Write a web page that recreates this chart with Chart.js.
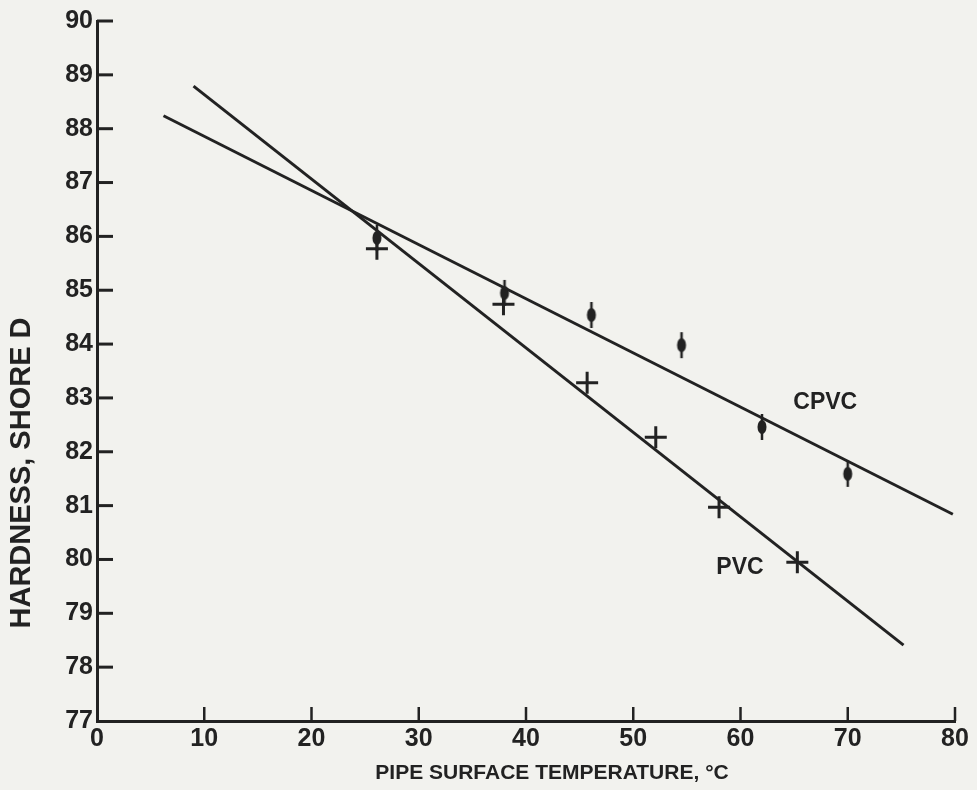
<!DOCTYPE html>
<html>
<head>
<meta charset="utf-8">
<title>Hardness vs pipe surface temperature</title>
<script src="https://cdn.jsdelivr.net/npm/chart.js@4.4.1/dist/chart.umd.min.js"></script>
<style>
  html, body { margin: 0; padding: 0; background: #f2f2ee; }
</style>
</head>
<body>
<canvas id="hardnessChart" width="977" height="790"></canvas>
<script>
// values
const cpvcTemp = [26.1, 38.0, 46.1, 54.5, 62.0, 70.0];
const cpvcHardness = [85.97, 84.95, 84.54, 83.98, 82.46, 81.59];
const pvcTemp = [26.1, 37.9, 45.7, 52.1, 58.0, 65.3];
const pvcHardness = [85.77, 84.74, 83.28, 82.27, 80.97, 79.95];

// the two drawn fit lines, end points
const cpvcFitTemp = [6.2, 79.8];
const cpvcFitHardness = [88.24, 80.84];
const pvcFitTemp = [9.0, 75.2];
const pvcFitHardness = [88.79, 78.41];

const xTickValues = [0, 10, 20, 30, 40, 50, 60, 70, 80];
const yTickValues = [77, 78, 79, 80, 81, 82, 83, 84, 85, 86, 87, 88, 89, 90];

const ink = '#222222';
const fontFamily = "'Liberation Sans', Arial, sans-serif";

function toPoints(xs, ys) {
    return xs.map(function (v, i) { return { x: v, y: ys[i] }; });
}

// CPVC symbol: small filled dot with a vertical bar through it
function makeDotBar() {
    var c = document.createElement('canvas');
    c.width = 12;
    c.height = 28;
    var g = c.getContext('2d');
    g.strokeStyle = ink;
    g.fillStyle = ink;
    g.lineWidth = 2.5;
    g.beginPath();
    g.moveTo(6, 1);
    g.lineTo(6, 27);
    g.stroke();
    g.beginPath();
    g.ellipse(6, 14, 4.5, 7, 0, 0, Math.PI * 2);
    g.fill();
    return c;
}

// inward ticks, axis titles and line labels
const paperPlugin = {
    id: 'paper',
    beforeDraw: function (chart) {
        var ctx = chart.ctx;
        ctx.save();
        ctx.fillStyle = '#f2f2ee';
        ctx.fillRect(0, 0, chart.width, chart.height);
        ctx.restore();
    },
    afterDraw: function (chart) {
        var ctx = chart.ctx;
        var xs = chart.scales.x, ys = chart.scales.y;
        var area = chart.chartArea;
        ctx.save();
        ctx.strokeStyle = ink;
        ctx.lineWidth = 3;
        yTickValues.forEach(function (v) {
            if (v === yTickValues[0]) return;
            var py = ys.getPixelForValue(v);
            ctx.beginPath();
            ctx.moveTo(area.left, py);
            ctx.lineTo(area.left + 16, py);
            ctx.stroke();
        });
        ctx.lineWidth = 2.5;
        xTickValues.forEach(function (v) {
            if (v === xTickValues[0]) return;
            var px = xs.getPixelForValue(v);
            ctx.beginPath();
            ctx.moveTo(px, area.bottom);
            ctx.lineTo(px, area.bottom - 14);
            ctx.stroke();
        });

        ctx.fillStyle = ink;
        ctx.textAlign = 'center';
        ctx.textBaseline = 'middle';

        ctx.font = 'bold 21px ' + fontFamily;
        ctx.fillText('PIPE SURFACE TEMPERATURE, °C', area.left + 455, area.bottom + 52);

        ctx.save();
        ctx.font = 'bold 29px ' + fontFamily;
        ctx.translate(22, area.top + 452);
        ctx.rotate(-Math.PI / 2);
        ctx.fillText('HARDNESS, SHORE D', 0, 0);
        ctx.restore();

        ctx.font = 'bold 23px ' + fontFamily;
        ctx.fillText('CPVC', xs.getPixelForValue(67.9), ys.getPixelForValue(82.91));
        ctx.fillText('PVC', xs.getPixelForValue(59.95), ys.getPixelForValue(79.84));
        ctx.restore();
    }
};

document.addEventListener('DOMContentLoaded', function () {
    var ctx = document.getElementById('hardnessChart').getContext('2d');
    var hardnessChart = new Chart(ctx, {
        type: 'scatter',
        data: {
            datasets: [
                {
                    label: 'CPVC fit',
                    data: toPoints(cpvcFitTemp, cpvcFitHardness),
                    showLine: true,
                    borderColor: ink,
                    borderWidth: 3,
                    pointRadius: 0
                },
                {
                    label: 'PVC fit',
                    data: toPoints(pvcFitTemp, pvcFitHardness),
                    showLine: true,
                    borderColor: ink,
                    borderWidth: 3,
                    pointRadius: 0
                },
                {
                    label: 'CPVC',
                    data: toPoints(cpvcTemp, cpvcHardness),
                    pointStyle: makeDotBar(),
                    pointRadius: 7
                },
                {
                    label: 'PVC',
                    data: toPoints(pvcTemp, pvcHardness),
                    pointStyle: 'cross',
                    pointRadius: 11,
                    borderColor: ink,
                    borderWidth: 3
                }
            ]
        },
        options: {
            responsive: false,
            animation: false,
            layout: { padding: { top: 21, right: 22, bottom: 0, left: 0 } },
            plugins: {
                legend: { display: false },
                tooltip: { enabled: false }
            },
            scales: {
                x: {
                    type: 'linear',
                    min: 0,
                    max: 80,
                    afterBuildTicks: function (scale) {
                        scale.ticks = xTickValues.map(function (v) { return { value: v }; });
                    },
                    afterFit: function (scale) { scale.height = 69; },
                    grid: { display: false, drawTicks: false },
                    border: { display: true, color: ink, width: 3 },
                    ticks: {
                        color: ink,
                        padding: 3,
                        maxRotation: 0,
                        autoSkip: false,
                        font: { family: fontFamily, size: 25, weight: 'bold' }
                    }
                },
                y: {
                    type: 'linear',
                    min: 77,
                    max: 90,
                    afterBuildTicks: function (scale) {
                        scale.ticks = yTickValues.map(function (v) { return { value: v }; });
                    },
                    afterFit: function (scale) { scale.width = 97; },
                    grid: { display: false, drawTicks: false },
                    border: { display: true, color: ink, width: 3 },
                    ticks: {
                        color: ink,
                        padding: 4,
                        autoSkip: false,
                        font: { family: fontFamily, size: 25, weight: 'bold' }
                    }
                }
            }
        },
        plugins: [paperPlugin]
    });
});
</script>
</body>
</html>
